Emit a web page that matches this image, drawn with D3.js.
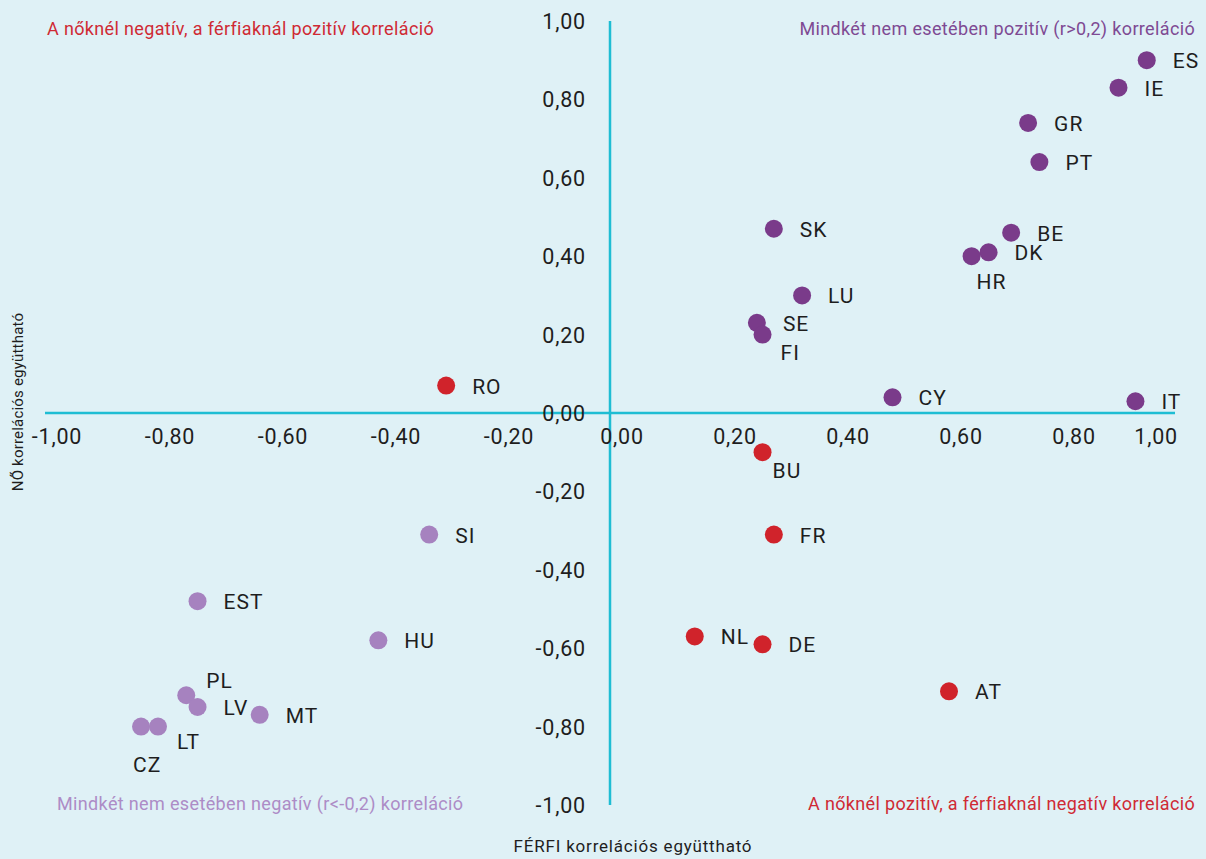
<!DOCTYPE html>
<html>
<head>
<meta charset="utf-8">
<script src="https://cdn.jsdelivr.net/npm/d3@7"></script>
<style>
  html, body { margin: 0; padding: 0; background: #dff1f6; }
  svg { display: block; font-family: Roboto, "Noto Sans", sans-serif; }
</style>
</head>
<body>
<svg id="chart" width="1206" height="859"></svg>
<script>
// ── Data ──────────────────────────────────────────────────────────────────
const countries = ['ES','IE','GR','PT','BE','DK','HR','SK','LU','SE','FI','CY','IT',
                   'RO','BU','FR','NL','DE','AT',
                   'SI','EST','HU','PL','LV','MT','CZ','LT'];
const ferfi = [0.95, 0.90, 0.74, 0.76, 0.71, 0.67, 0.64, 0.29, 0.34, 0.26, 0.27, 0.50, 0.93,
               -0.29, 0.27, 0.29, 0.15, 0.27, 0.60,
               -0.32, -0.73, -0.41, -0.75, -0.73, -0.62, -0.83, -0.80];
const no = [0.90, 0.83, 0.74, 0.64, 0.46, 0.41, 0.40, 0.47, 0.30, 0.23, 0.20, 0.04, 0.03,
            0.07, -0.10, -0.31, -0.57, -0.59, -0.71,
            -0.31, -0.48, -0.58, -0.72, -0.75, -0.77, -0.80, -0.80];
// group: pos = both positive, neg = both negative, mix = opposite signs
const groups = ['pos','pos','pos','pos','pos','pos','pos','pos','pos','pos','pos','pos','pos',
                'mix','mix','mix','mix','mix','mix',
                'neg','neg','neg','neg','neg','neg','neg','neg'];
const ticks = [-1, -0.8, -0.6, -0.4, -0.2, 0, 0.2, 0.4, 0.6, 0.8, 1];

// ── Layout ────────────────────────────────────────────────────────────────
const colors = { pos: '#7a3b8a', neg: '#a682bf', mix: '#d0232b' };
const axisColor = '#1ebdd3';
const ink = '#1e1e1e';
// label nudges for crowded points (default: right of marker)
const labelPos = {
  HR: { dx: 5, dy: 25 }, FI: { dx: 18, dy: 17 }, BU: { dx: 10, dy: 18 },
  PL: { dx: 20, dy: -15 }, CZ: { dx: -8, dy: 37 }, LT: { dx: 19, dy: 14 }
};

const svg = d3.select('#chart');
const x = d3.scaleLinear().domain([-1, 1]).range([45, 1175]);
const y = d3.scaleLinear().domain([-1, 1]).range([805, 21]);
const fmt = v => d3.format('.2f')(v).replace('.', ',').replace('−', '-');

// Axes lines
svg.append('line')
  .attr('x1', x(-1)).attr('x2', x(1)).attr('y1', y(0)).attr('y2', y(0))
  .attr('stroke', axisColor).attr('stroke-width', 2.5);
svg.append('line')
  .attr('x1', x(0)).attr('x2', x(0)).attr('y1', y(1)).attr('y2', y(-1))
  .attr('stroke', axisColor).attr('stroke-width', 2.5);

// Tick labels
svg.append('g').selectAll('text')
  .data(ticks).join('text')
  .attr('x', d => d === 1 ? x(d) + 3 : x(d) + 12)
  .attr('y', y(0) + 31)
  .attr('text-anchor', d => d === 1 ? 'end' : 'middle')
  .attr('font-size', 21.5).attr('letter-spacing', 0.8).attr('fill', ink)
  .text(fmt);

svg.append('g').selectAll('text')
  .data(ticks).join('text')
  .attr('x', x(0) - 24)
  .attr('y', d => y(d) + 8)
  .attr('text-anchor', 'end')
  .attr('font-size', 21.5).attr('letter-spacing', 0.8).attr('fill', ink)
  .text(fmt);

// Axis titles
svg.append('text')
  .attr('x', 633).attr('y', 852)
  .attr('text-anchor', 'middle').attr('font-size', 17).attr('letter-spacing', 0.8).attr('fill', ink)
  .text('FÉRFI korrelációs együttható');
svg.append('text')
  .attr('transform', 'translate(23,402) rotate(-90)')
  .attr('text-anchor', 'middle').attr('font-size', 15).attr('letter-spacing', 0.2).attr('fill', ink)
  .text('NŐ korrelációs együttható');

// Quadrant captions
const captions = [
  { t: 'A nőknél negatív, a férfiaknál pozitív korreláció', x: 47, y: 35, a: 'start', c: '#cf2a34' },
  { t: 'Mindkét nem esetében pozitív (r>0,2) korreláció', x: 1195, y: 35, a: 'end', c: '#7e4a93' },
  { t: 'Mindkét nem esetében negatív (r<-0,2) korreláció', x: 57, y: 810, a: 'start', c: '#ad8cc6' },
  { t: 'A nőknél pozitív, a férfiaknál negatív korreláció', x: 1195, y: 810, a: 'end', c: '#cf2a34' }
];
svg.append('g').selectAll('text')
  .data(captions).join('text')
  .attr('x', d => d.x).attr('y', d => d.y)
  .attr('text-anchor', d => d.a)
  .attr('font-size', 18).attr('letter-spacing', 0.35).attr('fill', d => d.c)
  .text(d => d.t);

// Points
const pts = countries.map((c, i) => ({ c, fx: ferfi[i], nv: no[i], g: groups[i] }));

svg.append('g').selectAll('circle')
  .data(pts).join('circle')
  .attr('cx', d => x(d.fx)).attr('cy', d => y(d.nv))
  .attr('r', 9)
  .attr('fill', d => colors[d.g]);

svg.append('g').selectAll('text')
  .data(pts).join('text')
  .attr('x', d => x(d.fx) + (labelPos[d.c] ? labelPos[d.c].dx : 26))
  .attr('y', d => y(d.nv) + (labelPos[d.c] ? labelPos[d.c].dy : 0) + 8)
  .attr('font-size', 21).attr('letter-spacing', 1).attr('fill', ink)
  .text(d => d.c);
</script>
</body>
</html>
